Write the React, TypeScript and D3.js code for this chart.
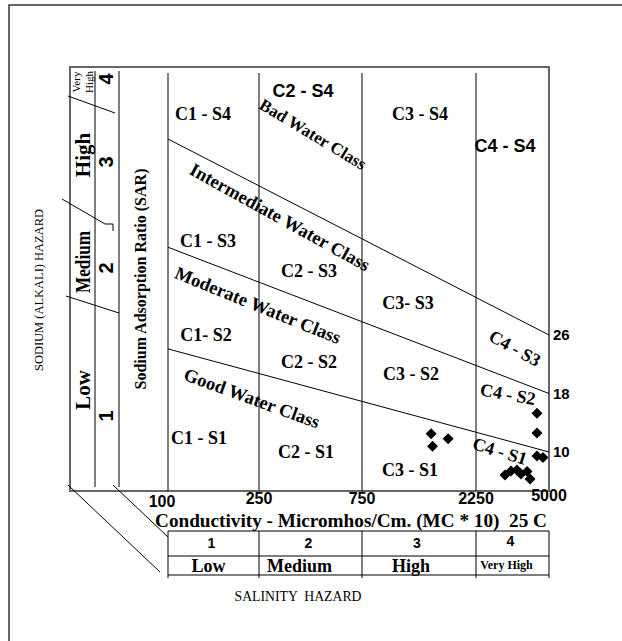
import React from 'react';
import * as d3 from 'd3';

// conductivity (micromhos/cm) class limits along the bottom
const conductivityTicks = [100, 250, 750, 2250, 5000];
const conductivityLabels = ['100', '250', '750', '2250', '5000'];

// SAR class boundaries: value at the 100 end and at the 5000 end
const boundarySarLeft = [52.8, 38, 24.1];
const boundarySarRight = [26, 18, 10];
const boundaryLabels = ['26', '18', '10'];

// salinity hazard table
const salinityNumbers = ['1', '2', '3', '4'];
const salinityNames = ['Low', 'Medium', 'High', 'Very High'];

// samples
const sampleEC = [1460, 1720, 1480, 4385, 4385, 4385, 4680, 3090, 3300, 3520, 3680, 3933, 4064];
const sampleSAR = [12.5, 11.8, 10.8, 15.3, 12.6, 9.45, 9.25, 6.85, 7.4, 7.55, 7.0, 7.35, 6.3];

const regionNames = [
  'C1 - S4', 'C2 - S4', 'C3 - S4', 'C4 - S4',
  'C1 - S3', 'C2 - S3', 'C3- S3', 'C4 - S3',
  'C1- S2', 'C2 - S2', 'C3 - S2', 'C4 - S2',
  'C1 - S1', 'C2 - S1', 'C3 - S1', 'C4 - S1',
];
const waterClasses = ['Bad Water Class', 'Intermediate Water Class', 'Moderate Water Class', 'Good Water Class'];

// layout of the annotations (pixels)
const regionLayout: [number, number, number, boolean][] = [
  [203, 114, 0, false], [303, 91, 0, true], [420, 114, 0, false], [505, 146, 0, true],
  [208, 241, 0, false], [309, 271, 0, false], [408, 303, 0, false], [515, 348, 29, false],
  [206, 335, 0, false], [309, 362, 0, false], [411, 374, 0, false], [508, 394, 10, false],
  [199, 438, 0, false], [306, 452, 0, false], [410, 470, 0, false], [500, 451, 17, false],
];
const waterLayout: [number, number, number][] = [
  [313, 134, 31], [280, 217, 29], [258, 305, 22], [252, 398, 20],
];
const nameShift = [-5, -11, -8, -6];

const SERIF = '"Liberation Serif", "Times New Roman", serif';
const SANS = '"Liberation Sans", Arial, sans-serif';

const box = { left: 70, top: 67, right: 549, bottom: 491 };

export default function App() {
  const x = d3.scaleLog().domain(conductivityTicks).range([168, 259, 362, 476, 549]);
  const y = d3.scaleLinear().domain([10, 26]).range([452, 335]);
  const diamond = d3.symbol(d3.symbolSquare, 60)()!;

  const tableTop = 531, tableMid = 556, tableBot = 575;

  const vText = (t: string, cx: number, cy: number, font: string, size: number, weight = 'bold', len?: number) => (
    <text key={t + cx + cy} transform={`translate(${cx},${cy}) rotate(-90)`} textAnchor="middle" dy="0.35em"
      fontFamily={font} fontSize={size} fontWeight={weight}
      textLength={len} lengthAdjust={len ? 'spacingAndGlyphs' : undefined}>{t}</text>
  );

  return (
    <svg width={622} height={641} style={{ position: 'absolute', left: 0, top: 0, background: '#fff' }}>
      <rect x={9} y={5} width={700} height={700} fill="none" stroke="#333" strokeWidth={1.5} />

      {/* main box */}
      <rect x={box.left} y={box.top} width={box.right - box.left} height={box.bottom - box.top}
        fill="none" stroke="#666" strokeWidth={2} />
      <line x1={95} x2={95} y1={box.top + 4} y2={box.bottom - 4} stroke="#000" />
      <line x1={119} x2={119} y1={box.top + 4} y2={box.bottom - 4} stroke="#000" />

      {/* conductivity class lines */}
      {conductivityTicks.slice(0, -1).map((c, i) => (
        <line key={c} x1={x(c)} x2={x(c)} y1={box.top + 6} y2={box.bottom}
          stroke={i === 1 ? '#555' : '#000'} strokeWidth={i === 1 ? 1.5 : 1} />
      ))}

      {/* SAR class boundaries */}
      {boundarySarLeft.map((s, i) => (
        <line key={s} x1={x(100)} y1={y(s)} x2={x(5000)} y2={y(boundarySarRight[i])} stroke="#000" />
      ))}
      {boundaryLabels.map((t, i) => (
        <text key={t} x={553} y={y(boundarySarRight[i])} dy="0.35em" fontFamily={SANS} fontWeight="bold"
          fontSize={15}>{t}</text>
      ))}

      {/* sodium hazard bands on the left */}
      <line x1={68} y1={96} x2={115} y2={113} stroke="#000" />
      <path d="M62,199 L105,224 L113,224 L113,231" fill="none" stroke="#000" />
      <line x1={66} y1={296} x2={119} y2={313} stroke="#000" />
      {vText('Very', 76, 82, SERIF, 11, 'normal')}
      {vText('High', 89, 82, SERIF, 11, 'normal')}
      {vText('4', 106, 79, SANS, 20)}
      {vText('High', 83, 155, SERIF, 21)}
      {vText('3', 106, 162, SANS, 20)}
      {vText('Medium', 83, 262, SERIF, 21, 'bold', 62)}
      {vText('2', 106, 268, SANS, 20)}
      {vText('Low', 83, 390, SERIF, 21)}
      {vText('1', 106, 416, SANS, 20)}
      {vText('Sodium Adsorption Ratio (SAR)', 140, 279, SERIF, 16)}
      {vText('SODIUM (ALKALI) HAZARD', 38, 290, SERIF, 13.5, 'normal', 162)}

      {/* region labels */}
      {regionNames.map((t, i) => {
        const [cx, cy, a, sans] = regionLayout[i];
        return (
          <text key={t} transform={`translate(${cx},${cy}) rotate(${a})`} textAnchor="middle" dy="0.35em"
            fontFamily={sans ? SANS : SERIF} fontWeight="bold" fontSize={18}>{t}</text>
        );
      })}
      {waterClasses.map((t, i) => {
        const [cx, cy, a] = waterLayout[i];
        return (
          <text key={t} transform={`translate(${cx},${cy}) rotate(${a})`} textAnchor="middle" dy="0.35em"
            fontFamily={SERIF} fontWeight="bold" fontSize={i === 0 ? 17 : 18.5}>{t}</text>
        );
      })}

      {/* samples */}
      {sampleEC.map((c, i) => (
        <path key={i} d={diamond} transform={`translate(${x(c)},${y(sampleSAR[i])}) rotate(45)`} fill="#000" />
      ))}

      {/* conductivity axis */}
      {conductivityLabels.map((t, i) => (
        <text key={t} x={x(conductivityTicks[i]) - (i === 0 ? 6 : 0)} y={i === 0 ? 507 : i === 4 ? 501 : 504}
          textAnchor="middle" fontFamily={SANS} fontWeight="bold" fontSize={16}>{t}</text>
      ))}
      <text x={351} y={527} textAnchor="middle" fontFamily={SERIF} fontWeight="bold" fontSize={18}
        textLength={392} lengthAdjust="spacingAndGlyphs"
        style={{ whiteSpace: 'pre' }}>{'Conductivity - Micromhos/Cm. (MC * 10)  25 C'}</text>

      {/* perspective lines */}
      <line x1={68} y1={485} x2={160} y2={572} stroke="#000" />
      <line x1={113} y1={485} x2={168} y2={537} stroke="#000" />

      {/* salinity table */}
      <line x1={x(100)} x2={x(5000)} y1={tableTop} y2={tableTop} stroke="#000" />
      <line x1={x(100)} x2={x(5000)} y1={tableMid} y2={tableMid} stroke="#000" />
      <line x1={x(100)} x2={x(5000)} y1={tableBot} y2={tableBot} stroke="#000" />
      {conductivityTicks.map((c) => (
        <line key={c} x1={x(c)} x2={x(c)} y1={tableTop} y2={tableBot + 3} stroke="#000" />
      ))}
      {salinityNumbers.map((t, i) => {
        const cx = (x(conductivityTicks[i]) + x(conductivityTicks[i + 1])) / 2;
        return (
          <g key={t}>
            <text x={cx - 2} y={i === 3 ? 546 : 548} textAnchor="middle" fontFamily={SANS} fontWeight="bold" fontSize={14}>{t}</text>
            <text x={cx + nameShift[i]} y={i === 3 ? 569 : 572} textAnchor="middle" fontFamily={SERIF} fontWeight="bold"
              fontSize={i === 3 ? 12 : 18}>{salinityNames[i]}</text>
          </g>
        );
      })}
      <text x={298} y={601} textAnchor="middle" fontFamily={SERIF} fontSize={14.5}
        textLength={127} lengthAdjust="spacingAndGlyphs" style={{ whiteSpace: 'pre' }}>{'SALINITY  HAZARD'}</text>
    </svg>
  );
}
